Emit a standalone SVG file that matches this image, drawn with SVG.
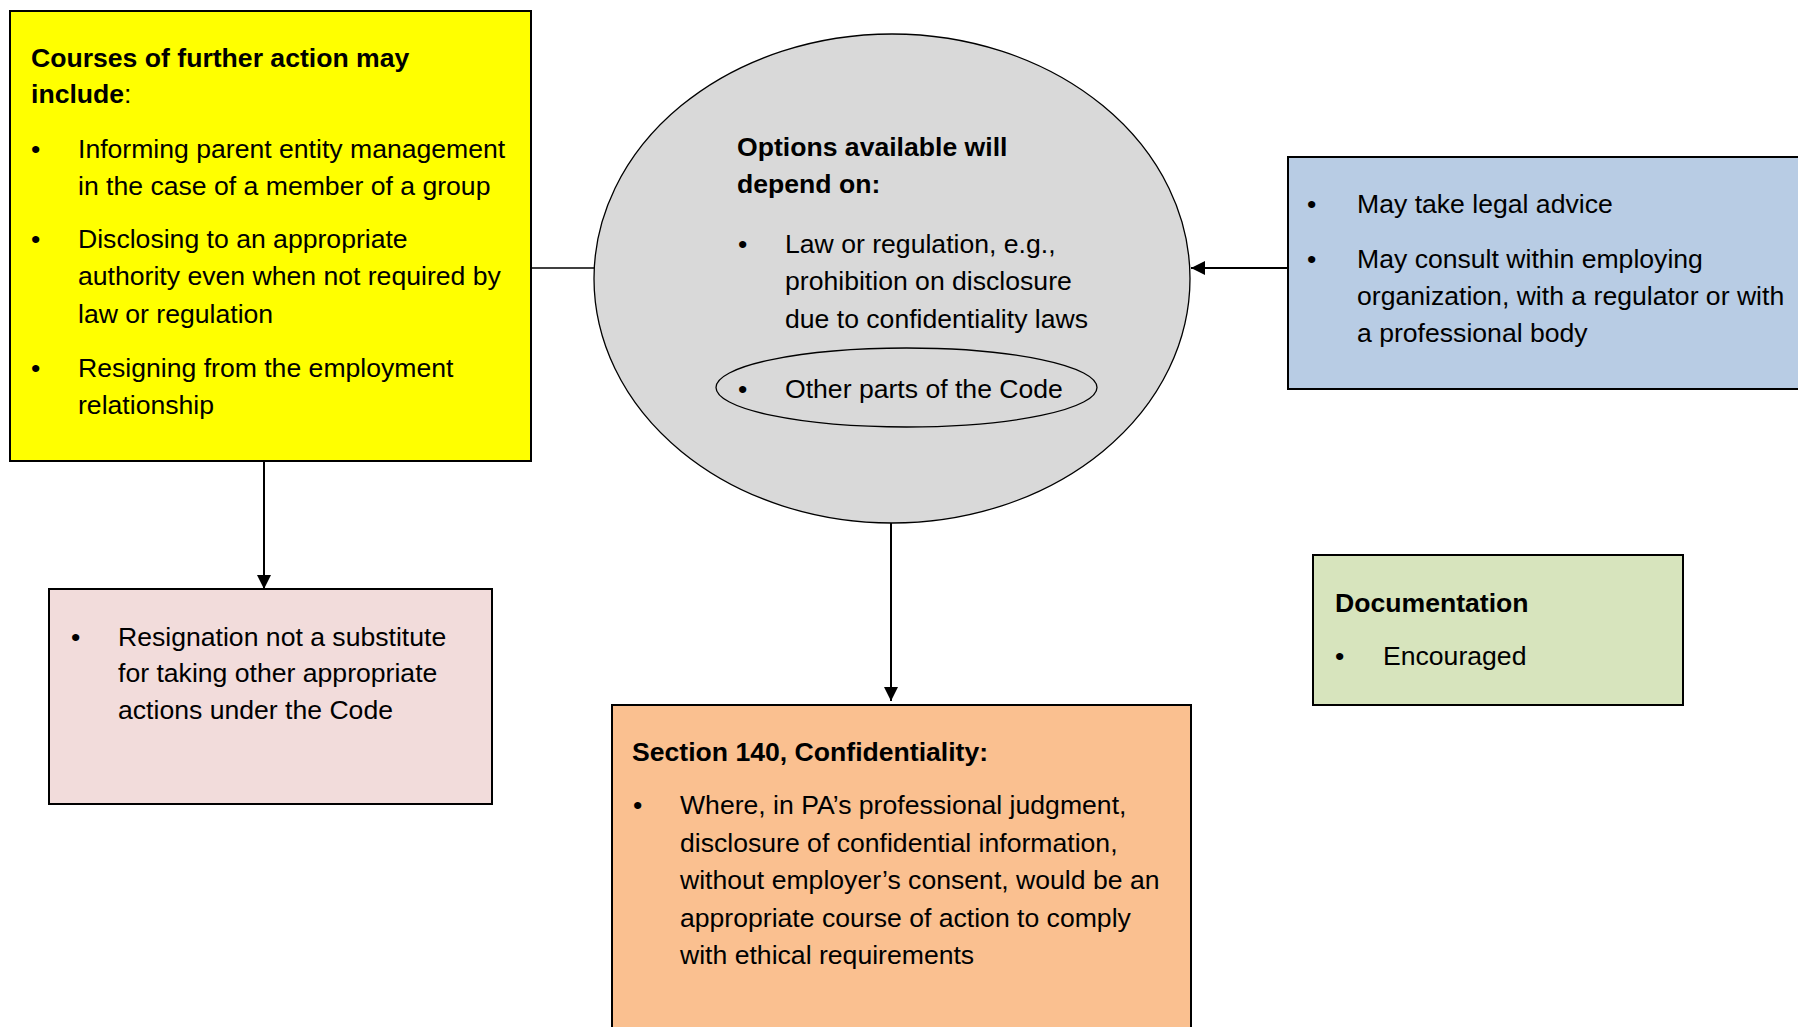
<svg xmlns="http://www.w3.org/2000/svg" width="1798" height="1027" viewBox="0 0 1798 1027">
<style>
text { font-family: "Liberation Sans", Arial, sans-serif; font-size: 26.6px; fill: #000; }
.b { font-weight: bold; }
.box { stroke: #000; stroke-width: 2; }
.conn { stroke: #000; stroke-width: 2; fill: none; }
</style>
<defs>
<marker id="arr" viewBox="0 0 14 14" refX="14" refY="7" markerWidth="14" markerHeight="14" markerUnits="userSpaceOnUse" orient="auto">
<path d="M0,0 L14,7 L0,14 z" fill="#000"/>
</marker>
</defs>
<rect width="1798" height="1027" fill="#fff"/>

<g id="connectors">
<line class="conn" x1="531" y1="268" x2="594" y2="268" style="stroke-width:1.5"/>
<line class="conn" x1="1288" y1="268" x2="1191" y2="268" marker-end="url(#arr)"/>
<line class="conn" x1="264" y1="461" x2="264" y2="589" marker-end="url(#arr)"/>
<line class="conn" x1="891" y1="427" x2="891" y2="701" marker-end="url(#arr)"/>
</g>

<g id="courses">
<rect class="box" x="10" y="11" width="521" height="450" fill="#FFFF00"/>
<text x="31" y="67" class="b">Courses of further action may</text>
<text x="31" y="103"><tspan class="b">include</tspan>:</text>
<text x="31" y="158">•</text>
<text x="78" y="158">Informing parent entity management</text>
<text x="78" y="195">in the case of a member of a group</text>
<text x="31" y="248">•</text>
<text x="78" y="248">Disclosing to an appropriate</text>
<text x="78" y="285">authority even when not required by</text>
<text x="78" y="323">law or regulation</text>
<text x="31" y="377">•</text>
<text x="78" y="377">Resigning from the employment</text>
<text x="78" y="414">relationship</text>
</g>

<g id="options">
<ellipse class="box" cx="892" cy="278.5" rx="298" ry="244.5" fill="#D9D9D9" style="stroke-width:1.3"/>
<text x="737" y="156" class="b">Options available will</text>
<text x="737" y="193" class="b">depend on:</text>
<text x="738" y="253">•</text>
<text x="785" y="253">Law or regulation, e.g.,</text>
<text x="785" y="290">prohibition on disclosure</text>
<text x="785" y="328">due to confidentiality laws</text>
</g>

<g id="other-parts">
<ellipse class="box" cx="906.5" cy="387.5" rx="190.5" ry="39.5" fill="none" style="stroke-width:1.3"/>
<text x="738" y="398">•</text>
<text x="785" y="398">Other parts of the Code</text>
</g>

<g id="advice">
<rect class="box" x="1288" y="157" width="520" height="232" fill="#B8CCE4"/>
<text x="1307" y="213">•</text>
<text x="1357" y="213">May take legal advice</text>
<text x="1307" y="268">•</text>
<text x="1357" y="268">May consult within employing</text>
<text x="1357" y="305">organization, with a regulator or with</text>
<text x="1357" y="342">a professional body</text>
</g>

<g id="resignation">
<rect class="box" x="49" y="589" width="443" height="215" fill="#F2DCDB"/>
<text x="71" y="646">•</text>
<text x="118" y="646">Resignation not a substitute</text>
<text x="118" y="682">for taking other appropriate</text>
<text x="118" y="719">actions under the Code</text>
</g>

<g id="section140">
<rect class="box" x="612" y="705" width="579" height="340" fill="#FAC090"/>
<text x="632" y="761" class="b">Section 140, Confidentiality:</text>
<text x="633" y="814">•</text>
<text x="680" y="814">Where, in PA’s professional judgment,</text>
<text x="680" y="852">disclosure of confidential information,</text>
<text x="680" y="889">without employer’s consent, would be an</text>
<text x="680" y="927">appropriate course of action to comply</text>
<text x="680" y="964">with ethical requirements</text>
</g>

<g id="documentation">
<rect class="box" x="1313" y="555" width="370" height="150" fill="#D7E4BD"/>
<text x="1335" y="612" class="b">Documentation</text>
<text x="1335" y="665">•</text>
<text x="1383" y="665">Encouraged</text>
</g>
</svg>
